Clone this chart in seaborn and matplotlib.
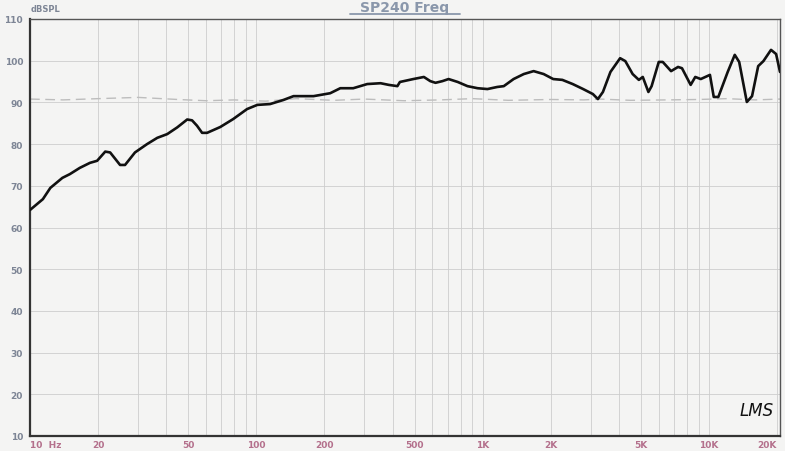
import numpy as np
import pandas as pd
import matplotlib
matplotlib.use("Agg")
import matplotlib.pyplot as plt
import seaborn as sns

# ---- data ----
freq_hz = [10, 11.4, 12.3, 13.9, 15.0, 16.6, 18.4, 19.8, 21.5, 22.6, 25, 26.3, 29.1,
           32.9, 36.5, 40.4, 44.7, 49.5, 52, 54.7, 57.6, 60.6, 69.3, 79, 91, 101,
           115, 132, 146, 179, 212, 235, 268, 309, 354, 385, 420, 431, 494, 550,
           587, 619, 664, 707, 776, 857, 950, 1050, 1160, 1240, 1370, 1520, 1680,
           1860, 2050, 2250, 2500, 2780, 3070, 3230, 3400, 3670, 4050, 4270, 4600,
           4900, 5100, 5400, 5580, 6000, 6250, 6800, 7300, 7600, 8300, 8700, 9200,
           10100, 10500, 11000, 12100, 13000, 13600, 14700, 15500, 16500, 17400,
           18800, 19800, 20600]
spl_db = [64.2, 66.8, 69.5, 71.9, 72.8, 74.3, 75.5, 76.0, 78.2, 78.0, 75.0, 75.0, 78.0,
          80.0, 81.5, 82.4, 84.0, 85.9, 85.7, 84.4, 82.7, 82.7, 84.1, 86.0, 88.4, 89.4,
          89.6, 90.6, 91.5, 91.5, 92.2, 93.4, 93.4, 94.4, 94.6, 94.2, 93.9, 94.9, 95.6, 96.1,
          95.1, 94.7, 95.1, 95.6, 94.9, 93.9, 93.4, 93.2, 93.7, 93.9, 95.6, 96.8, 97.5,
          96.8, 95.6, 95.4, 94.4, 93.2, 92.0, 90.8, 92.5, 97.3, 100.6, 99.9, 96.8,
          95.4, 96.1, 92.5, 93.9, 99.7, 99.7, 97.5, 98.5, 98.2, 94.2, 96.1, 95.6,
          96.6, 91.3, 91.3, 97.3, 101.4, 99.7, 90.1, 91.5, 98.7, 99.9,
          102.6, 101.6, 97.3]

ref_freq_hz = [10, 14, 20, 30, 45, 60, 80, 110, 150, 220, 300, 450, 650, 900, 1300,
               2000, 2800, 3300, 4500, 6500, 9000, 12000, 16000, 20600]
ref_db = [90.8, 90.6, 90.9, 91.2, 90.7, 90.4, 90.6, 90.3, 90.9, 90.5, 90.8, 90.4,
          90.6, 90.9, 90.5, 90.7, 90.6, 90.8, 90.5, 90.6, 90.7, 90.9, 90.6, 90.8]

y_ticks = [10, 20, 30, 40, 50, 60, 70, 80, 90, 100, 110]
x_ticks = [10, 20, 50, 100, 200, 500, 1000, 2000, 5000, 10000, 20000]
x_tick_labels = ["10  Hz", "20", "50", "100", "200", "500", "1K", "2K", "5K", "10K", "20K"]

df = pd.DataFrame({"freq": freq_hz, "spl": spl_db})
df_ref = pd.DataFrame({"freq": ref_freq_hz, "spl": ref_db})

sns.set_style("white")
bg = "#f4f4f3"
fig = plt.figure(figsize=(7.85, 4.52), dpi=100, facecolor=bg)
W, H = 785, 452
ax = fig.add_axes([30 / W, (H - 437) / H, 750 / W, 417 / H], facecolor=bg)

sns.lineplot(data=df_ref, x="freq", y="spl", ax=ax, color="#bdbdbd", lw=1.0,
             linestyle=(0, (7, 4)), zorder=2)
sns.lineplot(data=df, x="freq", y="spl", ax=ax, color="#111111", lw=1.9, zorder=3)

ax.set_xscale("log")
ax.set_xlim(10, 20600)
ax.set_ylim(10, 110)

# grid
minor = []
for dec in [10, 100, 1000, 10000]:
    for m in range(1, 10):
        v = dec * m
        if 10 <= v <= 20000:
            minor.append(v)
for v in minor:
    ax.axvline(v, color="#cdcdcd", lw=0.6, zorder=1)
for v in y_ticks:
    ax.axhline(v, color="#cdcdcd", lw=0.6, zorder=1)

ax.set_xticks(x_ticks)
ax.set_xticklabels(x_tick_labels)
ax.xaxis.set_minor_locator(matplotlib.ticker.NullLocator())
ax.set_yticks(y_ticks)
ax.set_yticklabels([str(v) for v in y_ticks])
ax.tick_params(axis="x", length=0, pad=3, labelsize=6.5, labelcolor="#b4708c")
ax.tick_params(axis="y", length=0, pad=5, labelsize=6.5, labelcolor="#7d8595")
for lab in ax.get_xticklabels() + ax.get_yticklabels():
    lab.set_fontweight("bold")
ax.get_xticklabels()[0].set_horizontalalignment("left")
ax.get_xticklabels()[-1].set_horizontalalignment("right")
ax.set_xlabel("")
ax.set_ylabel("")

for side in ["left", "bottom"]:
    ax.spines[side].set_color("#333333")
    ax.spines[side].set_linewidth(1.6)
for side in ["top", "right"]:
    ax.spines[side].set_visible(True)
    ax.spines[side].set_color("#555555")
    ax.spines[side].set_linewidth(1.0)

fig.text(31 / W, 1 - 9 / H, "dBSPL", fontsize=6, color="#7d8595", fontweight="bold",
         va="center", ha="left")
fig.text(405 / W, 1 - 8 / H, "SP240 Freq", fontsize=10, color="#8a97ab",
         fontweight="bold", ha="center", va="center")
fig.add_artist(matplotlib.lines.Line2D([350 / W, 460 / W], [1 - 15 / H, 1 - 15 / H],
                                       color="#8a97ab", lw=1.3))
ax.text(0.992, 0.04, "LMS", transform=ax.transAxes, fontsize=12, fontstyle="italic",
        color="#111111", ha="right", va="bottom")

fig.savefig("out.png", dpi=100, facecolor=bg)
